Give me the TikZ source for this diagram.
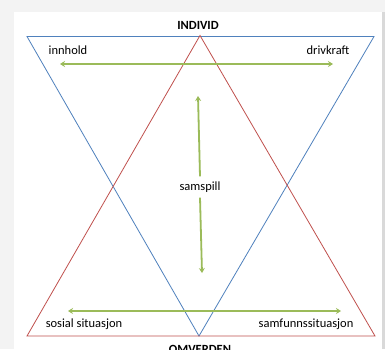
\documentclass[tikz,border=0pt]{standalone}
\usepackage{fontspec}
\setmainfont{Carlito}
\usepackage{xcolor}
\usepackage{tikz}
\usetikzlibrary{positioning,calc,arrows.meta}

\definecolor{triblue}{RGB}{79,129,189}
\definecolor{trired}{RGB}{192,80,77}
\definecolor{relgreen}{RGB}{155,187,89}
\definecolor{shadowgray}{RGB}{243,243,243}

\tikzset{
    lbl/.style={font=\fontsize{12.5}{15}\selectfont, inner sep=1pt},
    head/.style={lbl, font=\fontsize{12.5}{15}\selectfont\bfseries},
    indivline/.style={draw=triblue, line width=0.8pt},
    omverdline/.style={draw=trired, line width=0.8pt},
    relation/.style={draw=relgreen, line width=1.8pt, {Stealth[length=5pt,width=6pt]}-{Stealth[length=5pt,width=6pt]}},
    onerel/.style={draw=relgreen, line width=1.8pt, -{Stealth[length=5pt,width=6pt]}},
}

\begin{document}
\begin{tikzpicture}[x=1pt,y=-1pt]
        % page and panel
        \useasboundingbox (0,0) rectangle (385,349);
        \fill[shadowgray] (0,0) rectangle (385,349);
        \fill[gray!30] (381,12) rectangle (385,349);
        \fill[white] (14,12) rectangle (381.5,349);

        % corners of the two triangles
        \coordinate (bTL) at (27,36.5);
        \coordinate (bTR) at (374,36.5);
        \coordinate (bB)  at (199,336);
        \coordinate (rT)  at (200,35.5);
        \coordinate (rBL) at (27,336);
        \coordinate (rBR) at (375,336);

        \draw[indivline] (bTL) -- (bTR) -- (bB) -- cycle;
        \draw[omverdline] (rBL) -- (rBR) -- (rT) -- cycle;

        % labels
        \node[head] (individ) at (198,25) {INDIVID};
        \node[head] (omverden) at (200,349) {OMVERDEN};
        \node[lbl] (innhold) at (68,50) {innhold};
        \node[lbl] (drivkraft) at (328,50) {drivkraft};
        \node[lbl] (sosial) at (84,324) {sosial situasjon};
        \node[lbl] (samfunn) at (306,324) {samfunnssituasjon};
        \node[lbl, inner sep=5pt] (samspill) at (200,187) {samspill};

        % relations
        \coordinate (topL) at (60,64);
        \coordinate (topR) at (333,64);
        \coordinate (botL) at (68,311);
        \coordinate (botR) at (341,311);
        \coordinate (midT) at (198,96);
        \coordinate (midB) at (202,273);

        \draw[relation] (topL) -- (topR);
        \draw[relation] (botL) -- (botR);
        \draw[onerel] (samspill.north) -- (midT);
        \draw[onerel] (samspill.south) -- (midB);
\end{tikzpicture}
\end{document}
